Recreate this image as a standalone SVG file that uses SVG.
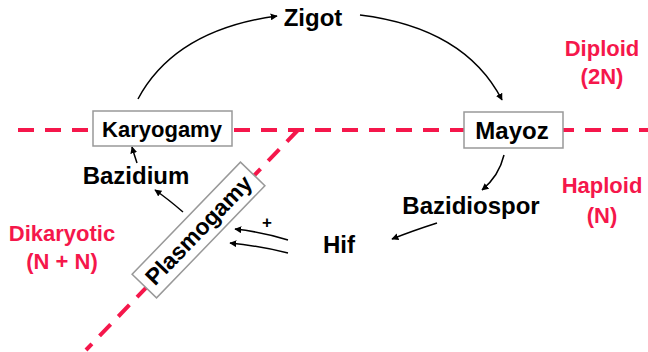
<svg xmlns="http://www.w3.org/2000/svg" width="648" height="352" viewBox="0 0 648 352">
<style>
.lbl{font-family:"Liberation Sans",Arial,sans-serif;font-weight:bold;fill:#000;text-anchor:middle}
.red{font-family:"Liberation Sans",Arial,sans-serif;font-weight:bold;fill:#f5174b;text-anchor:middle;font-size:22px}
.dash{stroke:#f5174b;stroke-width:4;stroke-dasharray:16 11;fill:none}
.box{fill:#fff;stroke:#999;stroke-width:1.5}
.conn{fill:none;stroke:#000;stroke-width:1.5;marker-end:url(#ah)}
</style>
<defs>
<marker id="ah" viewBox="0 0 10 10" refX="9" refY="5" markerWidth="7" markerHeight="7" orient="auto" markerUnits="userSpaceOnUse">
<path d="M0,0 L10,5 L0,10 z" fill="#000"/>
</marker>
</defs>
<rect width="648" height="352" fill="#fff"/>
<g id="phase-lines">
<line class="dash" x1="18" y1="130" x2="648" y2="130"/>
<line class="dash" x1="298" y1="130" x2="86" y2="350"/>
</g>
<g id="connectors">
<path class="conn" d="M138,99 Q175,30 277,16"/>
<path class="conn" d="M360,15 Q465,28 502,100"/>
<path class="conn" d="M504,155 Q499,176 482,190"/>
<path class="conn" d="M437,223 Q412,231 392,239"/>
<path class="conn" d="M288,240 Q262,232 235,229"/>
<path class="conn" d="M288,253 Q260,246 230,243"/>
<path class="conn" d="M137,163 Q134,154 132,147"/>
<path class="conn" d="M183,212 Q168,199 155,190"/>
</g>
<g id="zigot"><text class="lbl" x="313" y="26" font-size="24">Zigot</text></g>
<g id="karyogamy">
<rect class="box" x="93" y="111" width="139" height="35"/>
<text class="lbl" x="162" y="137" font-size="22">Karyogamy</text>
</g>
<g id="mayoz">
<rect class="box" x="464" y="112" width="99" height="36"/>
<text class="lbl" x="512" y="139" font-size="24">Mayoz</text>
</g>
<g id="bazidium"><text class="lbl" x="136" y="184" font-size="24">Bazidium</text></g>
<g id="bazidiospor"><text class="lbl" x="471" y="214" font-size="24">Bazidiospor</text></g>
<g id="hif"><text class="lbl" x="339" y="253" font-size="24">Hif</text></g>
<g id="plasmogamy" transform="translate(198.5,230) rotate(-46)">
<rect class="box" x="-78" y="-17" width="156" height="34"/>
<text class="lbl" x="0" y="8" font-size="23">Plasmogamy</text>
</g>
<g id="plus"><text class="lbl" x="267" y="228" font-size="17">+</text></g>
<g id="diploid"><text class="red" x="602" y="56">Diploid</text><text class="red" x="602" y="84">(2N)</text></g>
<g id="haploid"><text class="red" x="602" y="193">Haploid</text><text class="red" x="602" y="223">(N)</text></g>
<g id="dikaryotic"><text class="red" x="62" y="241">Dikaryotic</text><text class="red" x="62" y="269">(N + N)</text></g>
</svg>
